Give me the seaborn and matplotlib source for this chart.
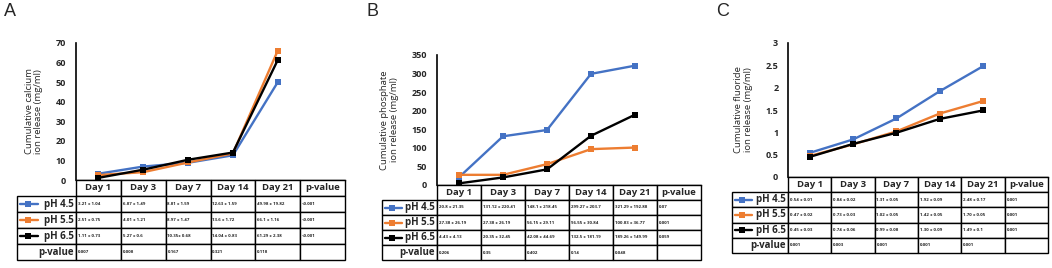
import matplotlib
matplotlib.use('Agg')
import matplotlib.pyplot as plt
import seaborn as sns
import pandas as pd

sns.set_style("white")
plt.rcParams['font.family'] = ['Open Sans', 'DejaVu Sans']

# ---------------------------------------------------------------
# Data
# ---------------------------------------------------------------
days = ['Day 1', 'Day 3', 'Day 7', 'Day 14', 'Day 21']
groups = ['pH 4.5', 'pH 5.5', 'pH 6.5']
colors = ['#4472C4', '#ED7D31', '#000000']

calcium_45 = [3.21, 6.87, 8.81, 12.63, 49.98]
calcium_55 = [2.51, 4.01, 8.97, 13.6, 66.1]
calcium_65 = [1.11, 5.27, 10.35, 14.04, 61.29]
calcium_cells_45 = ['3.21 ± 1.04', '6.87 ± 1.49', '8.81 ± 1.59', '12.63 ± 1.59', '49.98 ± 19.82']
calcium_cells_55 = ['2.51 ± 0.75', '4.01 ± 1.21', '8.97 ± 1.47', '13.6 ± 1.72', '66.1 ± 1.16']
calcium_cells_65 = ['1.11 ± 0.73', '5.27 ± 0.6', '10.35± 0.68', '14.04 ± 0.83', '61.29 ± 2.38']
calcium_p_group = ['<0.001', '<0.001', '<0.001']
calcium_p_day = ['0.007', '0.008', '0.167', '0.321', '0.118']

phosphate_45 = [20.8, 131.12, 148.1, 299.27, 321.29]
phosphate_55 = [27.38, 27.38, 56.15, 96.55, 100.83]
phosphate_65 = [4.43, 20.35, 42.08, 132.5, 189.26]
phosphate_cells_45 = ['20.8 ± 21.35', '131.12 ± 220.41', '148.1 ± 218.45', '299.27 ± 203.7', '321.29 ± 192.88']
phosphate_cells_55 = ['27.38 ± 26.19', '27.38 ± 26.19', '56.15 ± 29.11', '96.55 ± 30.84', '100.83 ± 36.77']
phosphate_cells_65 = ['4.43 ± 4.13', '20.35 ± 32.45', '42.08 ± 44.69', '132.5 ± 181.19', '189.26 ± 149.99']
phosphate_p_group = ['0.07', '0.001', '0.059']
phosphate_p_day = ['0.206', '0.35', '0.402', '0.14', '0.048']

fluoride_45 = [0.54, 0.84, 1.31, 1.92, 2.48]
fluoride_55 = [0.47, 0.73, 1.02, 1.42, 1.70]
fluoride_65 = [0.45, 0.74, 0.99, 1.30, 1.49]
fluoride_cells_45 = ['0.54 ± 0.01', '0.84 ± 0.02', '1.31 ± 0.05', '1.92 ± 0.09', '2.48 ± 0.17']
fluoride_cells_55 = ['0.47 ± 0.02', '0.73 ± 0.03', '1.02 ± 0.05', '1.42 ± 0.05', '1.70 ± 0.05']
fluoride_cells_65 = ['0.45 ± 0.03', '0.74 ± 0.06', '0.99 ± 0.08', '1.30 ± 0.09', '1.49 ± 0.1']
fluoride_p_group = ['0.001', '0.001', '0.001']
fluoride_p_day = ['0.001', '0.003', '0.001', '0.001', '0.001']

calcium_ticks = [0, 10, 20, 30, 40, 50, 60, 70]
phosphate_ticks = [0, 50, 100, 150, 200, 250, 300, 350]
fluoride_ticks = [0, 0.5, 1, 1.5, 2, 2.5, 3]

# ---------------------------------------------------------------
# Layout helpers (pixel boxes, top-left origin)
# ---------------------------------------------------------------
W, H = 1052, 268


def box(x0, y0, x1, y1):
    return [x0 / W, 1 - y1 / H, (x1 - x0) / W, (y1 - y0) / H]


def draw_panel(fig, letter, letter_xy, ylabel, series, cells, p_group, p_day,
               ticks, plot_px, table_px):
    # line chart
    ax = fig.add_axes(box(*plot_px))
    df = pd.DataFrame({
        'pos': list(range(len(days))) * len(groups),
        'value': [v for s in series for v in s],
        'group': [g for g in groups for _ in days],
    })
    sns.lineplot(data=df, x='pos', y='value', hue='group', hue_order=groups,
                 palette=colors, marker='s', markersize=4, markeredgewidth=0,
                 linewidth=1.7, ax=ax, legend=False)
    ax.set_xlim(-0.5, len(days) + 0.5)
    ax.set_ylim(ticks[0], ticks[-1])
    ax.set_yticks(ticks)
    ax.set_yticklabels([f'{t:g}' for t in ticks], fontweight='bold', fontsize=6.5)
    ax.set_xticks([])
    ax.set_xlabel('')
    ax.set_ylabel(ylabel, fontsize=6.8, linespacing=1.1, labelpad=9)
    ax.tick_params(axis='y', length=0, pad=7)
    for side in ['top', 'right']:
        ax.spines[side].set_visible(False)
    ax.spines['left'].set_color('black')
    ax.spines['left'].set_linewidth(1.2)
    ax.spines['bottom'].set_color('black')
    ax.spines['bottom'].set_linewidth(1.0)
    ax.set_facecolor('none')

    # data table
    tx0, ty0, tx1, ty1 = table_px
    tax = fig.add_axes(box(*table_px))
    tax.axis('off')
    label_w = (plot_px[0] - tx0) / (tx1 - tx0)
    col_w = [label_w] + [(1 - label_w) / 6] * 6
    text = [[''] + days + ['p-value']]
    for i, g in enumerate(groups):
        text.append([g] + cells[i] + [p_group[i]])
    text.append(['p-value'] + p_day + [''])
    tab = tax.table(cellText=text, colWidths=col_w, bbox=[0, 0, 1, 1], cellLoc='left')
    tab.auto_set_font_size(False)
    for (r, c), cell in tab.get_celld().items():
        cell.set_linewidth(1.0)
        cell.set_edgecolor('black')
        cell.PAD = 0.04
        if r == 0 and c == 0:
            cell.visible_edges = ''
        if r == 0:
            cell.set_text_props(fontsize=6.8, fontweight='bold', ha='center')
        elif c == 0:
            cell.set_text_props(fontsize=7.0, fontweight='bold', ha='right')
        else:
            cell.set_text_props(fontsize=3.2, fontweight='bold', ha='left')

    # legend keys in the row-label cells
    n_rows = len(text)
    for i, col in enumerate(colors):
        yc = 1 - (i + 1.5) / n_rows
        tax.plot([0.008, label_w * 0.36], [yc, yc], color=col, lw=1.7,
                 transform=tax.transAxes, clip_on=False)
        tax.plot([label_w * 0.18], [yc], marker='s', ms=4, mew=0, color=col,
                 transform=tax.transAxes, clip_on=False)

    fig.text(letter_xy[0] / W, 1 - letter_xy[1] / H, letter, fontsize=13,
             family='Liberation Sans', va='top', ha='left')


fig = plt.figure(figsize=(W / 100, H / 100), dpi=100)

draw_panel(fig, 'A', (4, 3), 'Cumulative calcium\nion release (mg/ml)',
           [calcium_45, calcium_55, calcium_65],
           [calcium_cells_45, calcium_cells_55, calcium_cells_65],
           calcium_p_group, calcium_p_day, calcium_ticks,
           (76, 43, 345, 180), (17, 180, 345, 260))

draw_panel(fig, 'B', (366, 3), 'Cumulative phosphate\nion release (mg/ml)',
           [phosphate_45, phosphate_55, phosphate_65],
           [phosphate_cells_45, phosphate_cells_55, phosphate_cells_65],
           phosphate_p_group, phosphate_p_day, phosphate_ticks,
           (437, 55, 701, 185), (382, 185, 701, 260))

draw_panel(fig, 'C', (716, 3), 'Cumulative fluoride\nion release (mg/ml)',
           [fluoride_45, fluoride_55, fluoride_65],
           [fluoride_cells_45, fluoride_cells_55, fluoride_cells_65],
           fluoride_p_group, fluoride_p_day, fluoride_ticks,
           (788, 43, 1048, 177), (732, 177, 1048, 253))

fig.savefig('out.png', dpi=100)
plt.close(fig)
